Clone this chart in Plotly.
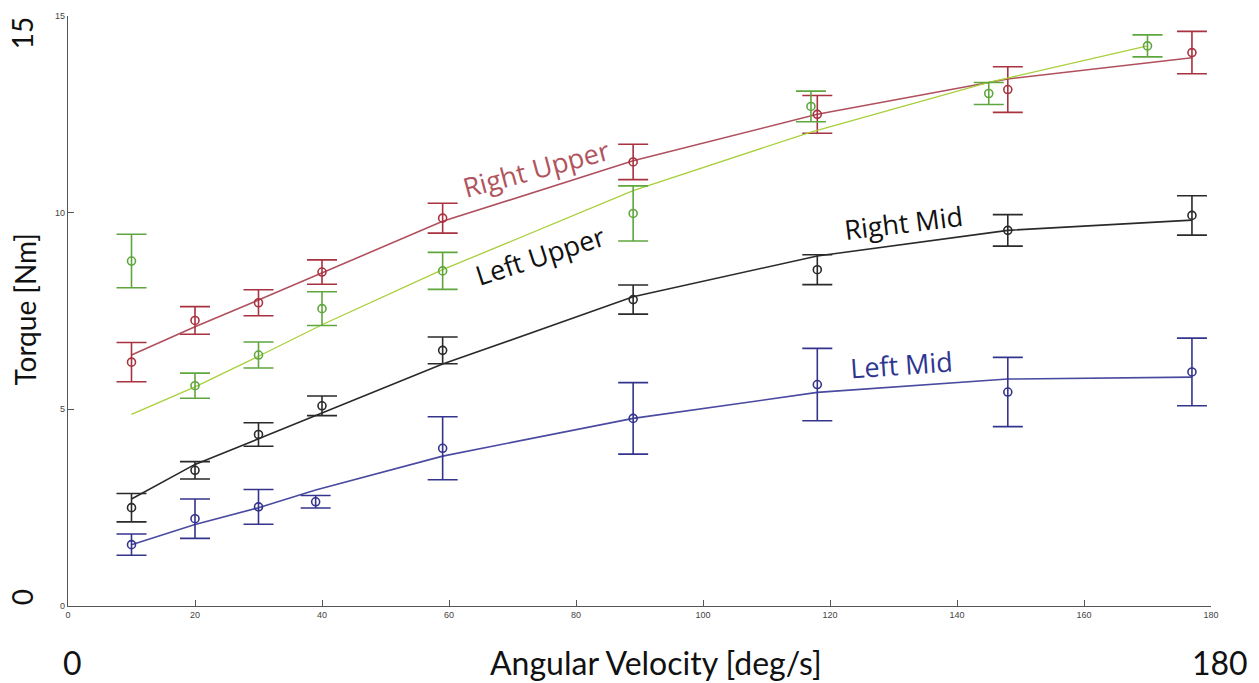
import plotly.graph_objects as go

# ---------------- data ----------------
ru_x = [10, 20, 30, 40, 59, 89, 118, 148, 177]
ru_y = [6.20, 7.26, 7.71, 8.49, 9.86, 11.29, 12.50, 13.13, 14.07]
ru_err = [0.50, 0.35, 0.33, 0.31, 0.38, 0.45, 0.48, 0.58, 0.54]
ru_fit = [6.38, 7.10, 7.78, 8.47, 9.78, 11.32, 12.50, 13.40, 13.94]

lu_x = [10, 20, 30, 40, 59, 89, 117, 145, 170]
lu_y = [8.77, 5.60, 6.38, 7.56, 8.52, 9.98, 12.70, 13.03, 14.24]
lu_err = [0.68, 0.32, 0.33, 0.43, 0.47, 0.70, 0.39, 0.28, 0.28]
lu_fit = [4.87, 5.57, 6.35, 7.15, 8.55, 10.56, 12.05, 13.31, 14.24]

rm_x = [10, 20, 30, 40, 59, 89, 118, 148, 177]
rm_y = [2.50, 3.45, 4.36, 5.09, 6.50, 7.79, 8.55, 9.55, 9.93]
rm_err = [0.36, 0.22, 0.30, 0.25, 0.34, 0.37, 0.38, 0.40, 0.50]
rm_fit = [2.72, 3.60, 4.25, 4.90, 6.15, 7.86, 8.90, 9.55, 9.81]

lm_x = [10, 20, 30, 39, 59, 89, 118, 148, 177]
lm_y = [1.56, 2.22, 2.52, 2.65, 4.01, 4.77, 5.63, 5.44, 5.95]
lm_err = [0.27, 0.50, 0.44, 0.16, 0.80, 0.91, 0.92, 0.88, 0.86]
lm_fit = [1.56, 2.07, 2.50, 2.95, 3.81, 4.77, 5.43, 5.77, 5.82]

x_ticks = [0, 20, 40, 60, 80, 100, 120, 140, 160, 180]
y_ticks = [0, 5, 10, 15]

series = [
    # name, x, y, err, fit, marker colour, line colour, line width
    ("Right Upper", ru_x, ru_y, ru_err, ru_fit, "#a8323f", "#b0505e", 1.6),
    ("Left Upper", lu_x, lu_y, lu_err, lu_fit, "#5fa63e", "#a8cf3a", 1.3),
    ("Right Mid", rm_x, rm_y, rm_err, rm_fit, "#2a2a2a", "#2a2a2a", 1.6),
    ("Left Mid", lm_x, lm_y, lm_err, lm_fit, "#34348c", "#4a4aa0", 1.6),
]

fig = go.Figure()
for name, xs, ys, es, fs, mc, lc, lw in series:
    fig.add_trace(go.Scatter(
        x=xs, y=fs, mode="lines", line=dict(color=lc, width=lw),
        showlegend=False, hoverinfo="skip"))
    fig.add_trace(go.Scatter(
        x=xs, y=ys, mode="markers", name=name, showlegend=False,
        marker=dict(symbol="circle-open", size=8, color=mc, line=dict(width=1.6, color=mc)),
        error_y=dict(type="data", array=es, visible=True, color=mc, thickness=1.6, width=15)))

labels = [
    ("Right Upper", 73.7, 11.12, -15, "#b0545e"),
    ("Left Upper", 74.3, 8.92, -18, "#111111"),
    ("Right Mid", 131.5, 9.76, -7, "#111111"),
    ("Left Mid", 131.2, 6.15, -4, "#2e3590"),
]
for txt, lx, ly, ang, col in labels:
    fig.add_annotation(x=lx, y=ly, xref="x", yref="y", text=txt, showarrow=False,
                       textangle=ang, font=dict(family="Open Sans", size=27, color=col))

left_font = dict(family="Lato", size=28, color="#111111")
bottom_font = dict(family="Lato", size=32, color="#111111")
outer = [
    ("15", -0.0402, 0.971, -90, left_font),
    ("Torque [Nm]", -0.0376, 0.5025, -90, left_font),
    ("0", -0.0402, 0.0151, -90, left_font),
    ("0", 0.0035, -0.0958, 0, bottom_font),
    ("Angular Velocity [deg/s]", 0.514, -0.0958, 0, bottom_font),
    ("180", 1.0079, -0.0958, 0, bottom_font),
]
for txt, px, py, ang, fnt in outer:
    fig.add_annotation(x=px, y=py, xref="paper", yref="paper", text=txt, showarrow=False,
                       textangle=ang, font=fnt, xanchor="center", yanchor="middle")

axis_common = dict(showgrid=False, zeroline=False, showline=True, linecolor="#555555",
                   linewidth=1.2, ticks="inside", ticklen=6, tickcolor="#555555",
                   tickwidth=1.2, tickfont=dict(family="Liberation Sans", size=9, color="#444444"))
fig.update_xaxes(range=[0, 180], tickvals=x_ticks, ticktext=[str(v) for v in x_ticks], **axis_common)
fig.update_yaxes(range=[0, 15], tickvals=y_ticks, ticktext=[str(v) for v in y_ticks], **axis_common)

fig.update_layout(
    width=1259, height=683,
    margin=dict(l=68, r=48, t=11, b=77),
    paper_bgcolor="white", plot_bgcolor="white",
)

fig.write_html("out.html")
